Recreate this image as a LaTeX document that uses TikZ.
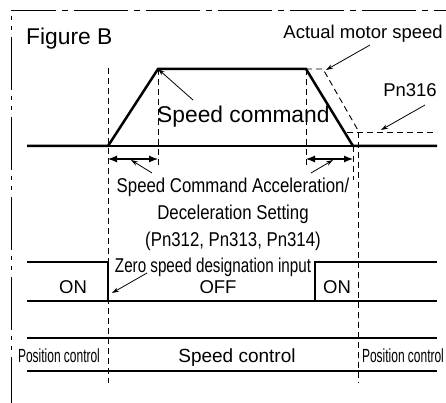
\documentclass[tikz,border=0pt]{standalone}
\usepackage{fontspec}
\setmainfont{Liberation Sans}
\usepackage{graphicx}
\usetikzlibrary{arrows.meta,positioning}

\newcommand{\squeeze}[2]{\scalebox{#1}[1]{#2}}

\begin{document}
\begin{tikzpicture}[
  x=1pt, y=-1pt,
  sig/.style={line width=2.5pt, line join=miter},
  base/.style={line width=1.1pt},
  guide/.style={line width=0.9pt, dash pattern=on 6pt off 4pt},
  ptr/.style={line width=0.8pt, -{Stealth[length=7pt,width=4.5pt]}},
  span/.style={line width=1.1pt, {Latex[length=9pt,width=7pt]}-{Latex[length=9pt,width=7pt]}},
  lbl/.style={inner sep=0pt, font=\fontsize{18.5}{22}\selectfont},
  big/.style={inner sep=0pt, font=\fontsize{22.8}{27}\selectfont},
  cond/.style={inner sep=0pt, font=\fontsize{20}{26.5}\selectfont}
]
\useasboundingbox (0,0) rectangle (446,403);

% frame
\draw[line width=0.9pt, dash pattern=on 54pt off 6pt on 6pt off 6pt, dash phase=9pt] (11,10) -- (446,10);
\draw[line width=0.9pt, dash pattern=on 53pt off 6pt on 4pt off 6pt on 4pt off 7pt, dash phase=53pt] (11,10) -- (11,403);

\node[big, anchor=base west] (title) at (26,45) {Figure B};

% speed command
\coordinate (c0) at (27,146);
\coordinate (c1) at (108,146);
\coordinate (c2) at (158,69);
\coordinate (c3) at (306,69);
\coordinate (c4) at (353,146);
\coordinate (c5) at (437,146);
\draw[base] (c1) -- (c4);
\draw[sig] (c0) -- (c1) -- (c2) -- (c3) -- (c4) -- (c5);

% actual motor speed and Pn316
\coordinate (m1) at (323,69);
\coordinate (m2) at (359,132);
\draw[guide] (c3) -- (m1) -- (m2);
\coordinate (p0) at (347,132);
\coordinate (p1) at (437,132);
\draw[guide] (p0) -- (p1);

% guides
\draw[guide] (108,68) -- (108,383);
\draw[guide] (158,69) -- (158,167);
\draw[guide] (306,69) -- (306,167);
\draw[guide] (353,146) -- (353,180);
\draw[guide] (358,132) -- (358,383);

% acceleration / deceleration times
\coordinate (r0) at (108,159);
\coordinate (r1) at (158,159);
\coordinate (f0) at (306,159);
\coordinate (f1) at (353,159);
\draw[span] (r0) -- (r1);
\draw[span] (f0) -- (f1);

\node[big, anchor=base west] (cmd) at (157,123) {Speed command};
\node[lbl, anchor=base east] (motor) at (443,39) {Actual motor speed};
\node[lbl, anchor=base] (pn) at (410,97) {Pn316};
\node[cond, anchor=base] (accel) at (233,193)
  {\squeeze{0.84}{\begin{tabular}[t]{@{}c@{}}Speed Command Acceleration/\\Deceleration Setting\\(Pn312, Pn313, Pn314)\end{tabular}}};

\coordinate (cmdtail) at (193,100);
\coordinate (motortail) at (370,45);
\coordinate (motortip) at (326,70);
\coordinate (pntail) at (425,105);
\coordinate (pntip) at (381,130);
\coordinate (rtail) at (152,173);
\coordinate (rtip) at (131,160);
\coordinate (ftail) at (311,173);
\coordinate (ftip) at (333,160);
\draw[ptr] (cmdtail) -- (c2);
\draw[ptr] (motortail) -- (motortip);
\draw[ptr] (pntail) -- (pntip);
\draw[ptr] (rtail) -- (rtip);
\draw[ptr] (ftail) -- (ftip);

% zero speed designation input
\coordinate (z0) at (27,262);
\coordinate (z1) at (108,262);
\coordinate (z2) at (108,301);
\coordinate (z3) at (315,301);
\coordinate (z4) at (315,262);
\coordinate (z5) at (437,262);
\coordinate (zl) at (27,301);
\coordinate (zr) at (437,301);
\draw[base] (zl) -- (z2);
\draw[base] (z3) -- (zr);
\draw[sig] (z0) -- (z1) -- (z2) -- (z3) -- (z4) -- (z5);

\node[cond, anchor=base] (zero) at (213,272) {\squeeze{0.76}{Zero speed designation input}};
\node[lbl, anchor=base] (onl) at (73,293) {ON};
\node[lbl, anchor=base] (off) at (218,293) {OFF};
\node[lbl, anchor=base] (onr) at (337,293) {ON};
\coordinate (zerotail) at (147,273);
\coordinate (zerotip) at (112,293);
\draw[ptr] (zerotail) -- (zerotip);

% control mode
\coordinate (k0) at (27,338);
\coordinate (k1) at (437,338);
\coordinate (k2) at (27,371);
\coordinate (k3) at (437,371);
\draw[base] (k0) -- (k1);
\draw[base] (k2) -- (k3);
\node[lbl, font=\fontsize{19}{22}\selectfont, anchor=base] (posl) at (59,362) {\squeeze{0.63}{Position control}};
\node[lbl, font=\fontsize{19}{22}\selectfont, anchor=base] (spd) at (237,362) {Speed control};
\node[lbl, font=\fontsize{19}{22}\selectfont, anchor=base] (posr) at (403,362) {\squeeze{0.63}{Position control}};

\end{tikzpicture}
\end{document}
